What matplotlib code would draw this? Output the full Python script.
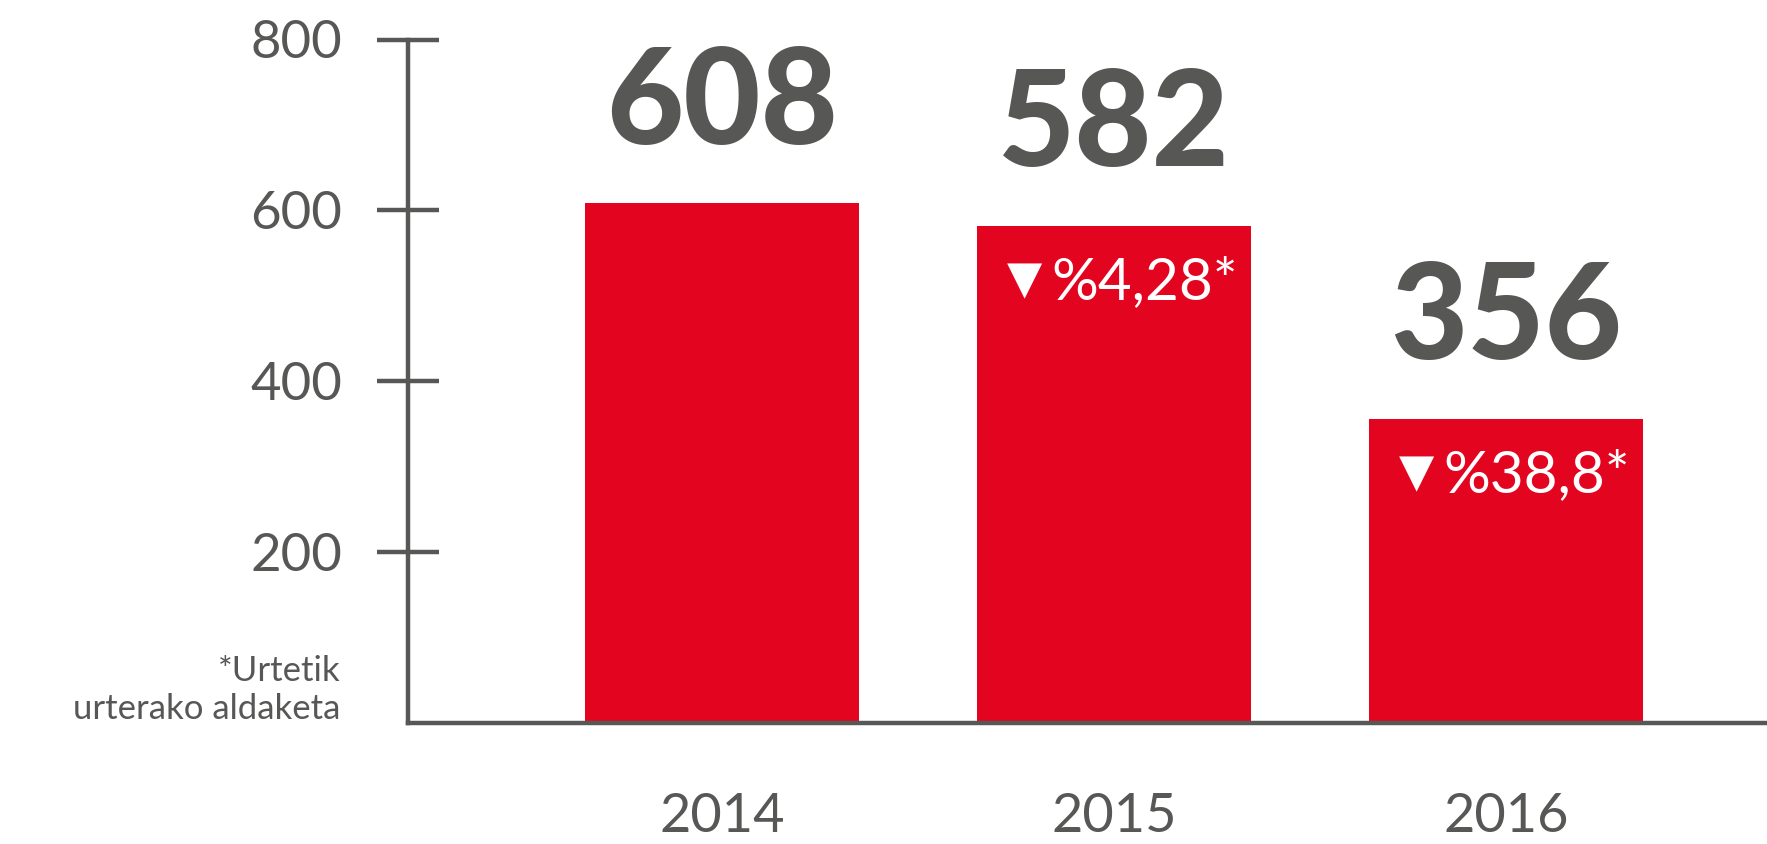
import matplotlib
matplotlib.use("Agg")
import matplotlib.pyplot as plt
from matplotlib import font_manager

# 데이터
years = ["2014", "2015", "2016"]
values = [608, 582, 356]
changes = [None, "%4,28*", "%38,8*"]
y_ticks = [200, 400, 600, 800]
note = "*Urtetik\nurterako aldaketa"

red = "#E30520"
grey = "#575756"

fams = {f.name for f in font_manager.fontManager.ttflist}
light_font = "Lato" if "Lato" in fams else "DejaVu Sans"
bold_font = "Lato" if "Lato" in fams else "DejaVu Sans"

fig = plt.figure(figsize=(17.67, 8.44), dpi=100)
ax = fig.add_axes([408 / 1767, 121.5 / 844, 1359 / 1767, 683 / 844])

x = list(range(len(years)))
ax.bar(x, values, width=0.7, color=red, zorder=2)

ax.set_xlim(-0.801, 2.666)
ax.set_ylim(0, 800)

for s in ["top", "right"]:
    ax.spines[s].set_visible(False)
for s in ["left", "bottom"]:
    ax.spines[s].set_color(grey)
    ax.spines[s].set_linewidth(3.2)
    ax.spines[s].set_zorder(3)

ax.set_yticks(y_ticks)
ax.set_yticklabels([str(v) for v in y_ticks], fontsize=38, color=grey,
                   family=light_font, fontweight="normal")
ax.tick_params(axis="y", direction="inout", length=44.6, width=3.2, color=grey, pad=25)

ax.set_xticks(x)
ax.set_xticklabels(years, fontsize=39, color=grey, family=light_font, fontweight="normal")
ax.tick_params(axis="x", length=0, pad=50)

# 값 라벨
for xi, v in zip(x, values):
    ax.annotate(str(v), (xi, v), xytext=(0, 43), textcoords="offset points",
                ha="center", va="baseline", fontsize=96, color=grey,
                family=bold_font, fontweight="black")

# 변화율 라벨 (삼각형 + 텍스트)
for xi, v, c in zip(x, values, changes):
    if c is None:
        continue
    ax.annotate("\u25BC", (xi, v), xytext=(-52, -40), textcoords="offset points",
                ha="right", va="center", fontsize=33, color="white",
                family="DejaVu Sans")
    ax.annotate(c, (xi, v), xytext=(-45, -41), textcoords="offset points",
                ha="left", va="center", fontsize=42, color="white",
                family=light_font, fontweight="normal")

fig.text(340 / 1767, 1 - 690 / 844, note, ha="right", va="center", fontsize=25,
         color=grey, family=light_font, fontweight="normal", linespacing=1.2)

fig.savefig("out.png", dpi=100)
